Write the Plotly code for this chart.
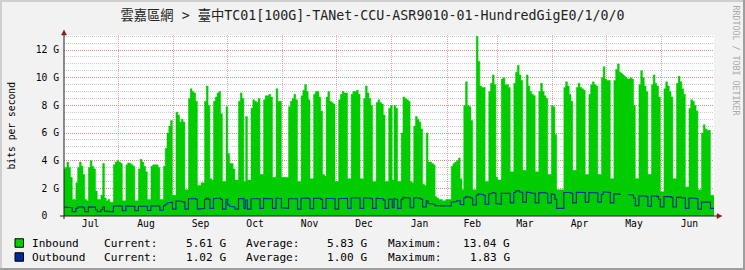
import datetime as dt
import plotly.graph_objects as go

TITLE = "雲嘉區網 > 臺中TC01[100G]-TANet-CCU-ASR9010-01-HundredGigE0/1/0/0"
FIRST_DAY = dt.datetime(2024, 7, 1)      # a Monday; rows below are Mon..Sun
X_START = dt.datetime(2024, 7, 1, 14, 53)
X_END = dt.datetime(2025, 6, 30, 6, 14)
Y_MAX = 13.09                              # G bits per second

# ---- Inbound (Gbit/s), one row per week, Mon..Sun ----
inbound_2024_q3 = [
    [3.4, 3.5, 3.9, 3.5, 2.8, 1.2, 1.2],
    [2.4, 3.5, 3.9, 3.6, 3.0, 1.2, 1.1],
    [3.5, 4.0, 3.6, 3.4, 1.8, 1.2, 1.2],
    [1.5, 3.8, 1.3, 1.1, 1.2, 1.0, 1.0],
    [3.7, 3.9, 4.0, 3.9, 3.8, 1.1, 1.1],
    [3.7, 3.85, 3.8, 3.7, 3.6, 1.1, 1.1],
    [3.4, 4.1, 3.9, 3.6, 3.2, 1.2, 1.2],
    [3.6, 3.7, 3.75, 3.7, 3.5, 1.2, 1.2],
    [3.6, 4.9, 6.0, 6.5, 6.9, 1.5, 1.5],
    [7.5, 7.3, 6.8, 7.0, 6.8, 1.9, 1.9],
    [8.5, 9.2, 9.0, 8.9, 8.3, 2.2, 2.2],
    [2.4, 2.4, 8.3, 9.4, 8.0, 2.7, 2.6],
    [8.3, 8.6, 8.9, 9.0, 7.4, 2.5, 2.5],
]
inbound_2024_q4 = [
    [7.9, 4.5, 3.8, 3.8, 3.4, 2.6, 2.6],
    [8.3, 8.9, 8.5, 2.5, 7.2, 2.6, 2.6],
    [7.8, 8.4, 8.3, 8.2, 8.5, 3.0, 3.0],
    [8.4, 8.7, 8.7, 8.8, 8.6, 2.8, 2.8],
    [9.2, 8.3, 8.3, 2.8, 2.8, 2.8, 2.8],
    [7.9, 8.3, 8.5, 8.8, 8.4, 2.5, 2.5],
    [8.7, 9.1, 9.5, 9.0, 8.4, 2.7, 2.7],
    [8.8, 9.0, 9.0, 8.6, 7.6, 3.0, 2.9],
    [8.6, 9.0, 8.3, 8.2, 8.1, 2.5, 2.5],
    [8.4, 8.8, 9.0, 8.9, 8.9, 2.7, 2.7],
    [8.8, 9.0, 9.0, 9.1, 8.8, 2.7, 2.7],
    [8.5, 9.4, 8.9, 8.5, 8.0, 2.5, 2.5],
    [8.2, 8.4, 8.2, 8.1, 7.3, 2.5, 2.5],
]
inbound_2025_q1 = [
    [7.8, 8.0, 2.6, 8.0, 7.8, 2.5, 2.5],
    [6.0, 8.6, 8.5, 8.4, 8.3, 2.5, 2.4],
    [6.5, 7.2, 7.0, 6.8, 6.3, 2.3, 2.2],
    [6.0, 3.9, 3.9, 3.8, 3.7, 1.4, 1.3],
    [1.2, 1.2, 1.1, 1.1, 1.2, 1.2, 1.2],
    [3.6, 3.8, 3.9, 4.0, 4.2, 2.7, 1.9],
    [8.0, 9.7, 8.0, 7.9, 6.9, 1.9, 1.9],
    [13.0, 11.2, 9.4, 9.3, 9.3, 2.5, 2.5],
    [9.0, 9.6, 10.2, 9.5, 2.8, 2.6, 2.6],
    [9.9, 10.0, 9.5, 9.5, 9.3, 3.2, 3.2],
    [9.6, 10.4, 10.9, 10.2, 9.8, 3.3, 3.3],
    [10.2, 9.4, 9.0, 8.8, 8.7, 3.2, 3.2],
    [9.0, 9.6, 9.0, 8.7, 8.5, 3.0, 3.0],
]
inbound_2025_q2 = [
    [8.0, 7.9, 5.9, 1.9, 1.9, 1.9, 1.9],
    [9.3, 9.7, 9.4, 8.8, 8.3, 3.3, 3.3],
    [9.3, 9.6, 9.3, 9.2, 9.1, 3.0, 3.0],
    [8.8, 9.5, 9.7, 9.5, 9.4, 3.0, 3.0],
    [10.0, 10.8, 9.9, 9.8, 9.8, 2.7, 2.7],
    [9.8, 10.6, 11.0, 10.4, None, None, None],
    [None, 9.9, 10.0, 9.9, 8.0, 2.7, 2.7],
    [9.5, 10.5, 10.0, 9.4, 9.0, 3.0, 3.0],
    [9.5, 10.2, 9.6, 9.4, 8.6, 1.75, 1.75],
    [9.2, 9.7, 9.4, 9.0, 8.6, 2.7, 2.7],
    [9.6, 10.1, 9.7, 9.2, 8.8, 2.1, 2.1],
    [7.8, 8.4, 8.3, 8.0, 7.6, 1.9, 1.9],
    [6.0, 6.6, 6.3, 6.2, 6.2, 1.5, 1.5],
]

# ---- Outbound (Gbit/s), one row per week, Mon..Sun ----
outbound_2024_q3 = [
    [0.65, 0.65, 0.65, 0.65, 0.6, 0.32, 0.32],
    [0.55, 0.65, 0.68, 0.66, 0.6, 0.32, 0.32],
    [0.66, 0.68, 0.66, 0.64, 0.45, 0.32, 0.32],
    [0.45, 0.65, 0.35, 0.33, 0.33, 0.3, 0.3],
    [0.72, 0.75, 0.75, 0.74, 0.72, 0.38, 0.38],
    [0.72, 0.73, 0.74, 0.72, 0.7, 0.38, 0.38],
    [0.7, 0.75, 0.74, 0.72, 0.7, 0.4, 0.4],
    [0.74, 0.75, 0.75, 0.74, 0.72, 0.42, 0.42],
    [0.75, 0.85, 0.95, 1.0, 1.0, 0.5, 0.5],
    [1.1, 1.1, 1.05, 1.05, 1.0, 0.5, 0.5],
    [1.25, 1.3, 1.28, 1.27, 1.2, 0.5, 0.5],
    [0.55, 0.55, 1.2, 1.3, 1.2, 0.55, 0.55],
    [1.25, 1.28, 1.3, 1.3, 1.2, 0.5, 0.5],
]
outbound_2024_q4 = [
    [1.2, 0.8, 0.7, 0.7, 0.65, 0.5, 0.5],
    [1.25, 1.28, 1.27, 0.55, 1.15, 0.5, 0.5],
    [1.25, 1.3, 1.3, 1.28, 1.25, 0.55, 0.55],
    [1.27, 1.3, 1.3, 1.28, 1.25, 0.55, 0.55],
    [1.3, 1.25, 1.25, 0.6, 0.6, 0.55, 0.55],
    [1.25, 1.28, 1.3, 1.3, 1.25, 0.5, 0.5],
    [1.28, 1.3, 1.32, 1.3, 1.25, 0.52, 0.52],
    [1.28, 1.3, 1.3, 1.28, 1.2, 0.55, 0.55],
    [1.28, 1.3, 1.28, 1.27, 1.25, 0.5, 0.5],
    [1.25, 1.3, 1.3, 1.3, 1.28, 0.55, 0.55],
    [1.3, 1.3, 1.3, 1.32, 1.3, 0.55, 0.55],
    [1.3, 1.35, 1.32, 1.3, 1.25, 0.55, 0.55],
    [1.28, 1.3, 1.28, 1.25, 1.15, 0.55, 0.55],
]
outbound_2025_q1 = [
    [1.2, 1.2, 0.6, 1.25, 1.2, 0.55, 0.55],
    [1.2, 1.35, 1.35, 1.32, 1.3, 0.6, 0.6],
    [1.3, 1.35, 1.3, 1.28, 1.2, 0.65, 0.65],
    [1.1, 0.9, 0.88, 0.86, 0.85, 0.75, 0.75],
    [0.75, 0.72, 0.7, 0.72, 0.72, 0.72, 0.72],
    [1.0, 1.05, 1.05, 1.1, 1.1, 0.85, 0.8],
    [1.3, 1.4, 1.35, 1.35, 1.3, 0.8, 0.8],
    [1.5, 1.6, 1.55, 1.55, 1.5, 0.85, 0.85],
    [1.6, 1.65, 1.7, 1.65, 0.9, 0.85, 0.85],
    [1.65, 1.7, 1.7, 1.68, 1.65, 0.95, 0.95],
    [1.7, 1.8, 1.83, 1.75, 1.7, 1.0, 1.0],
    [1.72, 1.7, 1.68, 1.65, 1.65, 0.95, 0.95],
    [1.7, 1.72, 1.7, 1.68, 1.65, 0.95, 0.95],
]
outbound_2025_q2 = [
    [1.6, 1.55, 1.2, 0.55, 0.55, 0.55, 0.55],
    [1.7, 1.75, 1.72, 1.7, 1.65, 0.95, 0.95],
    [1.72, 1.75, 1.72, 1.7, 1.7, 1.0, 1.0],
    [1.7, 1.72, 1.72, 1.7, 1.68, 1.0, 1.0],
    [1.55, 1.75, 1.72, 1.7, 1.7, 0.95, 0.95],
    [1.6, 1.62, 1.6, 1.55, None, None, None],
    [None, 1.55, 1.5, 1.5, 1.3, 0.75, 0.75],
    [1.45, 1.5, 1.48, 1.45, 1.4, 0.7, 0.7],
    [1.45, 1.5, 1.45, 1.4, 1.2, 0.65, 0.65],
    [1.4, 1.45, 1.42, 1.4, 1.35, 0.65, 0.65],
    [1.35, 1.38, 1.35, 1.3, 1.3, 0.55, 0.55],
    [1.3, 1.32, 1.3, 1.28, 1.25, 0.5, 0.5],
    [1.0, 1.05, 1.05, 1.02, 1.0, 0.55, 0.55],
]

# ---- Axis / legend text ----
y_tick_vals = [0, 2, 4, 6, 8, 10, 12]
y_tick_text = ["0\u00a0\u00a0", "2 G", "4 G", "6 G", "8 G", "10 G", "12 G"]
series_names = ["Inbound", "Outbound"]
series_colors = ["#00CC00", "#002A97"]
current_vals = ["5.61 G", "1.02 G"]
average_vals = ["5.83 G", "1.00 G"]
maximum_vals = ["13.04 G", "1.83 G"]

# ---- layout geometry (pixels) ----
W, H = 745, 270
L, R, T, B = 64, 31, 35, 54
PW, PH = W - L - R, H - T - B


def px(x):
    return (x - L) / PW


def py(y):
    return (H - B - y) / PH


def steps(quarters):
    vals = [v for q in quarters for week in q for v in week]
    xs, ys = [], []
    for i, v in enumerate(vals):
        t0 = FIRST_DAY + dt.timedelta(days=i, hours=6)
        t1 = t0 + dt.timedelta(days=1)
        if v is None:
            xs.append(t0)
            ys.append(None)
        else:
            xs += [t0, t1]
            ys += [v, v]
    return xs, ys


in_x, in_y = steps([inbound_2024_q3, inbound_2024_q4, inbound_2025_q1, inbound_2025_q2])
out_x, out_y = steps([outbound_2024_q3, outbound_2024_q4, outbound_2025_q1, outbound_2025_q2])

MONO = "DejaVu Sans Mono"
GRID = "rgba(143,143,143,0.45)"
MGRID = "rgba(222,79,79,0.5)"

fig = go.Figure()
fig.add_trace(go.Scatter(x=in_x, y=in_y, mode="lines", name="Inbound",
                         line=dict(color=series_colors[0], width=0.5),
                         fill="tozeroy", fillcolor=series_colors[0],
                         connectgaps=False, hoverinfo="skip"))
fig.add_trace(go.Scatter(x=out_x, y=out_y, mode="lines", name="Outbound",
                         line=dict(color=series_colors[1], width=1.1),
                         connectgaps=False, hoverinfo="skip"))

fig.update_layout(
    width=W, height=H,
    margin=dict(l=L, r=R, t=T, b=B, pad=0),
    paper_bgcolor="#F2F2F2", plot_bgcolor="#FFFFFF",
    showlegend=False,
    font=dict(family=MONO, size=9.7, color="#000000"),
    title=dict(text=TITLE, x=0.5, xref="container", xanchor="center",
               y=1 - 15 / H, yref="container", yanchor="middle",
               font=dict(family=MONO + ", Noto Sans CJK TC", size=13.3, color="#222222")),
)
fig.update_xaxes(
    type="date", range=[X_START, X_END],
    dtick="M1", tick0="2024-07-01", tickformat="%b", ticklabelmode="period",
    showgrid=True, gridcolor=MGRID, griddash="1px,1px", gridwidth=1,
    ticks="", showline=False, zeroline=False,
    tickfont=dict(family=MONO, size=9.7, color="#000000"),
)
fig.update_yaxes(
    range=[0, Y_MAX], tickmode="array", tickvals=y_tick_vals, ticktext=y_tick_text,
    showgrid=True, gridcolor=MGRID, griddash="1px,1px", gridwidth=1,
    minor=dict(dtick=0.5, tick0=0, showgrid=True, gridcolor=GRID,
               griddash="1px,1px", gridwidth=1),
    ticks="", zeroline=False, showline=False, ticklabelstandoff=4,
    tickfont=dict(family=MONO, size=9.7, color="#000000"),
)

shapes = []


def rect(x0, y0, x1, y1, fill, line_color=None, lw=0):
    shapes.append(dict(type="rect", xref="paper", yref="paper",
                       x0=px(x0), x1=px(x1), y0=py(y1), y1=py(y0),
                       fillcolor=fill,
                       line=dict(color=line_color or fill, width=lw),
                       layer="above"))


# 3D frame
rect(0, 0, 745, 2, "#CFCFCF")
rect(0, 0, 2, 270, "#CFCFCF")
rect(743, 0, 745, 270, "#9E9E9E")
rect(0, 268, 745, 270, "#9E9E9E")

# axis lines
shapes.append(dict(type="line", xref="paper", yref="paper", x0=px(60), x1=px(717),
                   y0=py(216), y1=py(216), line=dict(color="#1F1F1F", width=1)))
shapes.append(dict(type="line", xref="paper", yref="paper", x0=px(64), x1=px(64),
                   y0=py(219), y1=py(34), line=dict(color="#1F1F1F", width=1)))
# arrows
shapes.append(dict(type="path", xref="paper", yref="paper",
                   path=f"M {px(61.5)},{py(35)} L {px(66.5)},{py(35)} L {px(64)},{py(30)} Z",
                   fillcolor="#801F1F", line=dict(color="#801F1F", width=0.5)))
shapes.append(dict(type="path", xref="paper", yref="paper",
                   path=f"M {px(717)},{py(213.5)} L {px(717)},{py(218.5)} L {px(722)},{py(216)} Z",
                   fillcolor="#801F1F", line=dict(color="#801F1F", width=0.5)))

annotations = []
# y axis title
annotations.append(dict(text="bits per second", xref="paper", yref="paper",
                        x=px(11.5), y=py(126), xanchor="center", yanchor="middle",
                        textangle=-90, showarrow=False,
                        font=dict(family=MONO, size=9.7, color="#000000")))
# watermark
annotations.append(dict(text="RRDTOOL / TOBI OETIKER", xref="paper", yref="paper",
                        x=px(735.5), y=py(60), xanchor="center", yanchor="middle",
                        textangle=90, showarrow=False,
                        font=dict(family=MONO, size=8.3, color="#AAAAAA")))

# legend
row_y = [243, 257]
for i in range(2):
    yy = row_y[i]
    rect(15, yy - 4.25, 23.5, yy + 4.25, series_colors[i], "#000000", 1)
    lf = dict(family=MONO, size=11.1, color="#000000")
    for text, xx, anchor in [(series_names[i], 30, "left"),
                             ("Current:", 102, "left"),
                             (current_vals[i], 227.5, "right"),
                             ("Average:", 244, "left"),
                             (average_vals[i], 368.5, "right"),
                             ("Maximum:", 385.5, "left"),
                             (maximum_vals[i], 511.5, "right")]:
        annotations.append(dict(text=text, xref="paper", yref="paper",
                                x=px(xx), y=py(yy), xanchor=anchor, yanchor="middle",
                                showarrow=False, font=lf))

fig.update_layout(shapes=shapes, annotations=annotations)
fig.write_html("out.html",
               config={"displayModeBar": False, "staticPlot": True},
               post_script="document.body.style.margin='0';document.body.style.overflow='hidden';")
